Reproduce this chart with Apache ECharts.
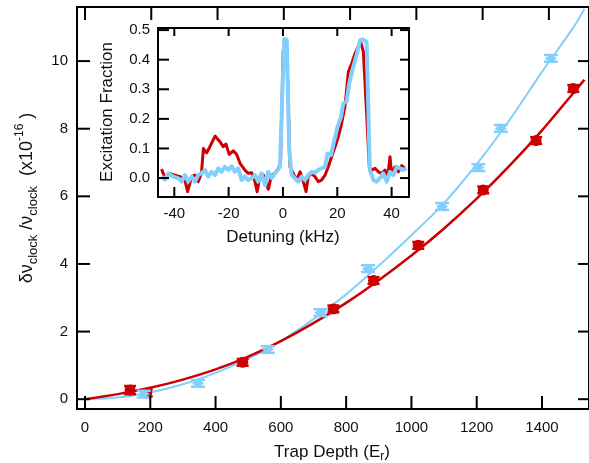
<!DOCTYPE html>
<html><head><meta charset="utf-8">
<script src="https://cdn.jsdelivr.net/npm/echarts@6/dist/echarts.min.js"></script>
<style>html,body{margin:0;padding:0;background:#fff}#c{width:589px;height:463px}</style>
</head><body><div id="c"></div>
<script>
// ---- main chart data ----
const mainXTicks = [0, 200, 400, 600, 800, 1000, 1200, 1400];
const mainYTicks = [0, 2, 4, 6, 8, 10];
const redX = [138, 189, 483, 761, 884, 1021, 1220, 1382, 1496];
const redY = [0.27, 0.18, 1.09, 2.67, 3.51, 4.55, 6.19, 7.65, 9.19];
const redErr = [0.12, 0.1, 0.1, 0.1, 0.1, 0.1, 0.1, 0.1, 0.1];
const blueX = [180, 346, 560, 721, 867, 1094, 1205, 1274, 1427];
const blueY = [0.15, 0.47, 1.47, 2.56, 3.86, 5.70, 6.85, 8.01, 10.08];
const blueErr = [0.1, 0.1, 0.1, 0.1, 0.1, 0.1, 0.1, 0.1, 0.1];
const fitX = [0, 100, 200, 300, 400, 500, 600, 700, 800, 900, 1000, 1100, 1200, 1300, 1400, 1500, 1530];
const redFit = [0, 0.15, 0.34, 0.58, 0.88, 1.26, 1.72, 2.25, 2.85, 3.52, 4.25, 5.05, 5.93, 6.9, 7.95, 9.1, 9.45];
const blueFit = [0, 0.05, 0.2, 0.44, 0.78, 1.2, 1.72, 2.37, 3.1, 3.95, 4.85, 5.8, 6.95, 8.25, 9.68, 11.05, 11.55];

// ---- inset data ----
const insetXTicks = [-40, -20, 0, 20, 40];
const insetYTicks = [0, 0.1, 0.2, 0.3, 0.4, 0.5];
const redDet = [-44.7,-43.4,-41.6,-39.8,-37.9,-36.1,-35.1,-33.6,-32.4,-31.2,-30.0,-29.3,-28.1,-26.9,-25.0,-23.2,-22.0,-21.0,-19.8,-18.3,-17.1,-15.8,-14.0,-12.8,-11.5,-10.3,-9.5,-8.5,-7.2,-5.4,-4.2,-2.9,-1.7,-0.9,0.1,1.0,1.6,2.6,3.8,5.0,6.3,7.5,8.5,9.3,10.6,11.8,13.0,14.2,15.5,16.7,17.9,19.2,20.4,21.6,22.8,24.1,25.3,26.5,27.7,28.6,29.6,30.8,31.8,32.7,33.9,35.1,36.3,37.6,38.6,39.4,40.0,41.3,42.5,43.7,44.9];
const redExc = [0.03,0.0,0.015,0.01,0.005,-0.007,-0.046,0.005,0.01,-0.012,0.016,0.10,0.085,0.106,0.142,0.123,0.106,0.115,0.08,0.092,0.081,0.05,0.027,0.016,0.018,-0.012,-0.046,0.005,0.01,-0.038,0.01,0.016,0.033,0.05,0.43,0.466,0.376,0.038,0.016,-0.007,0.021,-0.012,-0.046,0.005,0.016,0.005,-0.012,-0.007,0.01,0.038,0.072,0.106,0.14,0.185,0.24,0.36,0.387,0.42,0.444,0.46,0.427,0.218,0.038,0.027,0.033,0.021,0.016,0.027,0.005,0.072,0.016,0.038,0.021,0.042,0.033];
const blueDet = [-44.7,-43.4,-42.2,-40.4,-38.6,-37.3,-36.1,-34.9,-33.6,-32.4,-31.2,-30.0,-28.7,-27.5,-26.3,-25.0,-23.8,-22.6,-21.4,-20.1,-18.9,-17.7,-16.5,-15.2,-14.0,-12.8,-11.5,-10.3,-9.1,-7.9,-6.6,-5.4,-4.2,-2.9,-1.1,-0.1,0.5,1.4,2.3,3.2,4.4,5.6,6.9,8.1,9.3,10.6,11.8,13.0,14.2,15.5,16.4,17.7,18.9,20.1,21.4,22.2,23.4,24.4,25.9,27.1,28.4,29.6,30.8,32.0,33.3,34.5,35.7,36.9,38.2,39.4,40.6,41.9,43.1,44.3,45.6];
const blueExc = [0.005,-0.005,0.016,0.005,0.0,-0.012,0.01,-0.012,0.005,-0.012,0.01,0.016,0.027,0.005,0.021,0.01,0.033,0.021,0.038,0.027,0.04,0.021,0.033,-0.007,0.005,-0.007,0.0,0.01,-0.012,0.016,-0.024,0.021,0.0,0.016,0.038,0.32,0.47,0.466,0.095,0.01,0.0,-0.012,0.005,-0.007,0.01,0.021,0.018,0.027,0.033,0.038,0.083,0.078,0.128,0.173,0.207,0.252,0.258,0.32,0.376,0.416,0.466,0.468,0.46,0.027,-0.007,-0.012,0.0,0.016,-0.012,0.021,0.01,0.038,0.033,0.027,0.033];

// axis ranges
const mainXRange = [-24.5, 1544];
const mainXTopRange = [-24.1, 1521];
const mainYRange = [-0.29, 11.6];
const insetXRange = [-46, 46.4];
const insetYRange = [-0.064, 0.507];

const RED = '#cc0000', BLUE = '#82cffd';
const FONT = '"Liberation Sans", Arial, Helvetica, sans-serif';
const zip = (a, b) => a.map((v, i) => [v, b[i]]);
const zip3 = (a, b, c) => a.map((v, i) => [v, b[i], c[i]]);

function errRender(color, kind) {
  return function (params, api) {
    const x = api.value(0), y = api.value(1), e = api.value(2);
    const c = api.coord([x, y]);
    const t = api.coord([x, y + e]);
    const b = api.coord([x, y - e]);
    const capW = kind === 'circle' ? 6 : 7;
    const mk = () => ({ stroke: color, lineWidth: 2.5 });
    const children = [
      { type: 'line', shape: { x1: c[0], y1: t[1], x2: c[0], y2: b[1] }, style: mk() },
      { type: 'line', shape: { x1: c[0] - capW, y1: t[1], x2: c[0] + capW, y2: t[1] }, style: mk() },
      { type: 'line', shape: { x1: c[0] - capW, y1: b[1], x2: c[0] + capW, y2: b[1] }, style: mk() }
    ];
    if (kind === 'circle') {
      children.push({ type: 'circle', shape: { cx: c[0], cy: c[1], r: 5.5 }, style: { fill: color } });
    } else {
      children.push({ type: 'polygon', shape: { points: [[c[0] - 6, c[1]], [c[0], c[1] - 4.5], [c[0] + 6, c[1]], [c[0], c[1] + 4.5]] }, style: { fill: color } });
    }
    return { type: 'group', children };
  };
}

function axis(gridIndex, position, range, ticks, showLabel, margin, fmt) {
  return {
    gridIndex, type: 'value', position, min: range[0], max: range[1],
    splitLine: { show: false },
    axisLine: { show: true, onZero: false, lineStyle: { color: '#000', width: 2 } },
    axisTick: { show: false },
    axisLabel: showLabel
      ? { show: true, customValues: ticks.slice(), color: '#111', fontSize: 15, fontFamily: FONT, margin, formatter: fmt || (v => String(v)) }
      : { show: false }
  };
}

const titles = [
  { type: 'text', x: 27, y: 198, rotation: Math.PI / 2, z: 100,
    style: { text: '{g|δν}{s|clock}{g| /ν}{s|clock}{g|  (x10}{p|-16}{g| )}', align: 'center', verticalAlign: 'middle',
      rich: {
        g: { fontSize: 18, fontFamily: FONT, fill: '#111', lineHeight: 26, verticalAlign: 'middle' },
        s: { fontSize: 13, fontFamily: FONT, fill: '#111', lineHeight: 26, verticalAlign: 'bottom', padding: [10, 0, 0, 0] },
        p: { fontSize: 12, fontFamily: FONT, fill: '#111', lineHeight: 26, verticalAlign: 'top', padding: [0, 0, 10, 0] }
      } } },
  { type: 'text', x: 332, y: 452, z: 100,
    style: { text: '{g|Trap Depth (E}{s|r}{g|)}', align: 'center', verticalAlign: 'middle',
      rich: {
        g: { fontSize: 17, fontFamily: FONT, fill: '#111', lineHeight: 22, verticalAlign: 'middle' },
        s: { fontSize: 12, fontFamily: FONT, fill: '#111', lineHeight: 22, verticalAlign: 'bottom', padding: [8, 0, 0, 0] }
      } } },
  { type: 'text', x: 107, y: 112, rotation: Math.PI / 2, z: 100,
    style: { text: 'Excitation Fraction', align: 'center', verticalAlign: 'middle', font: '17px ' + FONT, fill: '#111' } },
  { type: 'text', x: 283, y: 237, z: 100,
    style: { text: 'Detuning (kHz)', align: 'center', verticalAlign: 'middle', font: '17px ' + FONT, fill: '#111' } }
];

const chart = echarts.init(document.getElementById('c'), null, { renderer: 'canvas' });
chart.setOption({
  animation: false,
  backgroundColor: '#fff',
  grid: [
    { left: 77, top: 7, width: 513, height: 402, show: false },
    { left: 158, top: 28, width: 251, height: 169, show: true, borderWidth: 0, backgroundColor: '#fff' }
  ],
  xAxis: [
    axis(0, 'bottom', mainXRange, mainXTicks, true, 11),
    axis(0, 'top', mainXTopRange, mainXTicks, false),
    axis(1, 'bottom', insetXRange, insetXTicks, true, 9),
    axis(1, 'top', insetXRange, insetXTicks, false)
  ],
  yAxis: [
    axis(0, 'left', mainYRange, mainYTicks, true, 9),
    axis(0, 'right', mainYRange, mainYTicks, false),
    axis(1, 'left', insetYRange, insetYTicks, true, 8, v => v.toFixed(1)),
    axis(1, 'right', insetYRange, insetYTicks, false)
  ],
  series: [
    { type: 'line', xAxisIndex: 0, yAxisIndex: 0, data: zip(fitX, blueFit), smooth: 0.3, showSymbol: false,
      lineStyle: { color: BLUE, width: 2 }, z: 2 },
    { type: 'line', xAxisIndex: 0, yAxisIndex: 0, data: zip(fitX, redFit), smooth: 0.3, showSymbol: false,
      lineStyle: { color: RED, width: 2.5 }, z: 3 },
    { type: 'custom', xAxisIndex: 0, yAxisIndex: 0, data: zip3(redX, redY, redErr), renderItem: errRender(RED, 'circle'), z: 4 },
    { type: 'custom', xAxisIndex: 0, yAxisIndex: 0, data: zip3(blueX, blueY, blueErr), renderItem: errRender(BLUE, 'diamond'), z: 4 },
    { type: 'line', xAxisIndex: 2, yAxisIndex: 2, data: zip(redDet, redExc), showSymbol: false,
      lineStyle: { color: RED, width: 3, join: 'round' }, z: 6 },
    { type: 'line', xAxisIndex: 2, yAxisIndex: 2, data: zip(blueDet, blueExc), showSymbol: false,
      lineStyle: { color: BLUE, width: 4, join: 'round' }, z: 7 }
  ],
  graphic: titles
});

// Tick marks: positions obtained from the axes' own scales via convertToPixel
try {
  const px = (i, v) => chart.convertToPixel({ xAxisIndex: i }, v);
  const py = (i, v) => chart.convertToPixel({ yAxisIndex: i }, v);
  const tickLines = [];
  const seg = (x1, y1, x2, y2) => tickLines.push({ type: 'line', z: 100, silent: true,
    shape: { x1, y1, x2, y2 }, style: { stroke: '#000', lineWidth: 2 } });
  function frameTicks(xb, xt, yl, yr, xr, yrng, xTicks, yTicks, lens) {
    const bottom = py(yl, yrng[0]), top = py(yl, yrng[1]);
    const left = px(xb, xr[0]), right = px(xb, xr[1]);
    xTicks.forEach(v => { const x = px(xb, v); seg(x, bottom, x, bottom - lens[0]); });
    xTicks.forEach(v => { const x = px(xt, v); seg(x, top, x, top + lens[1]); });
    yTicks.forEach(v => { const y = py(yl, v); seg(left, y, left + lens[2], y); });
    yTicks.forEach(v => { const y = py(yr, v); seg(right, y, right - lens[3], y); });
  }
  frameTicks(0, 1, 0, 1, mainXRange, mainYRange, mainXTicks, mainYTicks, [13, 13, 13, 11]);
  frameTicks(2, 3, 2, 3, insetXRange, insetYRange, insetXTicks, insetYTicks, [10, 8, 11, 9]);
  chart.setOption({ graphic: titles.concat(tickLines) });
} catch (e) { console.error(e); }
</script></body></html>
